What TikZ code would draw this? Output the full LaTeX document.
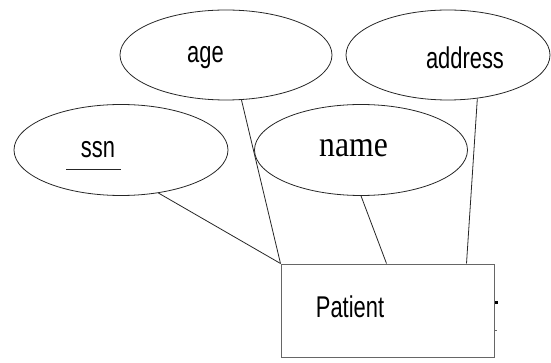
\documentclass[tikz,border=0pt]{standalone}
\usepackage{fontspec}
\setmainfont{Liberation Sans}
\newfontfamily\serifface{Liberation Serif}
\usetikzlibrary{shapes.geometric}
\begin{document}
\begin{tikzpicture}[x=1pt,y=-1pt,
  attr/.style={draw=black!85,line width=0.8pt,ellipse,inner sep=0pt},
  ent/.style={draw=black!60,line width=1pt,rectangle,inner sep=0pt,minimum width=213pt,minimum height=93pt},
  lbl/.style={inner sep=0pt,font=\fontsize{30}{32}\selectfont},
  conn/.style={draw=black!85,line width=0.8pt}]
\useasboundingbox (0,0) rectangle (551,363);
\node[attr,minimum width=212pt,minimum height=90pt] (age) at (226,55) {};
\node[attr,minimum width=204pt,minimum height=90pt] (address) at (448,55) {};
\node[attr,minimum width=214pt,minimum height=91pt] (ssn) at (121,150) {};
\node[attr,minimum width=213pt,minimum height=91pt] (name) at (361,150) {};
\node[ent] (pat) at (387.5,310.5) {};
\node[lbl] (agel) at (205.5,58) {\scalebox{0.73}[1]{age}};
\node[lbl] (addrl) at (465,58) {\scalebox{0.73}[1]{address}};
\node[lbl] (ssnl) at (98,150) {\scalebox{0.73}[1]{ssn}};
\node[inner sep=0pt,font=\fontsize{36}{38}\selectfont\serifface] (namel) at (353.5,148) {\scalebox{0.88}[1]{name}};
\node[lbl] (patl) at (350,307) {\scalebox{0.73}[1]{Patient}};
\coordinate (ul1) at (66,169);
\coordinate (ul2) at (121,169);
\draw[conn] (ul1) -- (ul2);
\draw[conn] (ssn.-49) -- (pat.north west);
\draw[conn] (age.-71.6) -- (pat.north west);
\draw[conn] (name.south) -- ([xshift=106pt]pat.north west);
\draw[conn] (address.-56) -- ([xshift=186pt]pat.north west);
\fill[black] (494.5,300.5) rectangle (497.5,303.5);
\fill[black!60] (494.5,329.5) rectangle (496.5,330.5);
\end{tikzpicture}
\end{document}
